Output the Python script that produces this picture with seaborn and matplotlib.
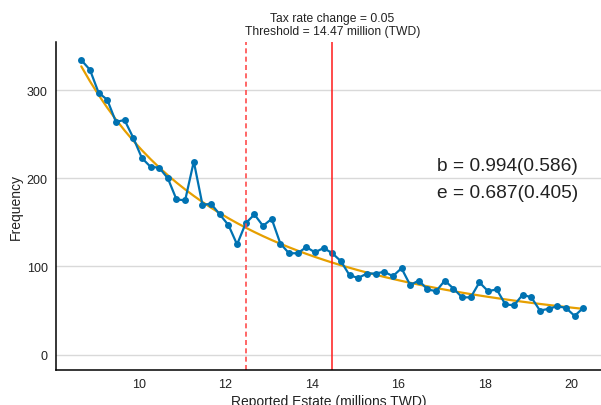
import numpy as np
import pandas as pd
import matplotlib
matplotlib.use("Agg")
import matplotlib.pyplot as plt
import seaborn as sns

# bin centres are 0.2 apart, centred on the threshold
threshold = 14.47
lower_bound = 12.47
bin_offsets = list(range(-29, 30))

frequency = [334, 323, 297, 289, 264, 266, 246, 223, 213, 212,
             200, 176, 175, 219, 170, 171, 159, 147, 125, 149,
             159, 146, 154, 126, 115, 115, 122, 116, 121, 115,
             106, 90, 87, 92, 92, 94, 89, 98, 79, 84,
             74, 72, 84, 75, 65, 65, 82, 72, 74, 57,
             56, 68, 65, 50, 52, 55, 53, 44, 53]

title_lines = ["Tax rate change = 0.05", "Threshold = 14.47 million (TWD)"]
estimates = ["b = 0.994(0.586)", "e = 0.687(0.405)"]


def load_bins():
    df = pd.DataFrame({"offset": bin_offsets, "frequency": frequency})
    df["estate"] = threshold + 0.2 * df["offset"]
    return df


def counterfactual(df, degree=2):
    # log-log polynomial fit to the counts outside the bunching window
    outside = df[(df["estate"] < lower_bound - 0.01) | (df["estate"] > threshold + 0.01)]
    coef = np.polyfit(np.log(outside["estate"]), np.log(outside["frequency"]), degree)
    return np.exp(np.polyval(coef, np.log(df["estate"])))


df = load_bins()
df["fit"] = counterfactual(df)

sns.set_style("white")
plt.rcParams["font.family"] = ["Liberation Sans", "DejaVu Sans"]
plt.rcParams["text.color"] = "#222222"
plt.rcParams["axes.labelcolor"] = "#222222"
plt.rcParams["xtick.color"] = "#222222"
plt.rcParams["ytick.color"] = "#222222"

fig = plt.figure(figsize=(6.01, 4.06), dpi=100)
ax = fig.add_axes([0.0932, 0.087, 0.9068, 0.806])

ax.grid(axis="y", color="#d9d9d9", linewidth=1)
ax.set_axisbelow(True)

sns.lineplot(data=df, x="estate", y="fit", color="#E69F00", linewidth=1.6, ax=ax)
sns.lineplot(data=df, x="estate", y="frequency", color="#0072B2", linewidth=1.6,
             marker="o", markersize=5, markeredgewidth=0, ax=ax)

ax.axvline(lower_bound, color="#ff4d4d", linestyle="--", linewidth=1.2, dashes=(3, 2))
ax.axvline(threshold, color="#ff1a1a", linewidth=1.1)

ax.set_xlim(8.086, 20.68)
ax.set_ylim(-17, 354)
ax.set_xticks([10, 12, 14, 16, 18, 20])
ax.set_yticks([0, 100, 200, 300])
ax.tick_params(labelsize=9, length=0, pad=6)

for side in ["top", "right"]:
    ax.spines[side].set_visible(False)
for side in ["left", "bottom"]:
    ax.spines[side].set_color("black")
    ax.spines[side].set_linewidth(1.1)

ax.set_xlabel("Reported Estate (millions TWD)", fontsize=10, labelpad=3)
ax.set_ylabel("Frequency", fontsize=10, labelpad=3)

ax.text(threshold, 1.018, "\n".join(title_lines), transform=ax.get_xaxis_transform(),
        ha="center", va="bottom", fontsize=8.7, linespacing=1.05)

ax.text(0.699, 0.625, estimates[0], transform=ax.transAxes,
        ha="left", va="center", fontsize=13.8)
ax.text(0.699, 0.540, estimates[1], transform=ax.transAxes,
        ha="left", va="center", fontsize=13.8)

fig.savefig("out.png", dpi=100)
